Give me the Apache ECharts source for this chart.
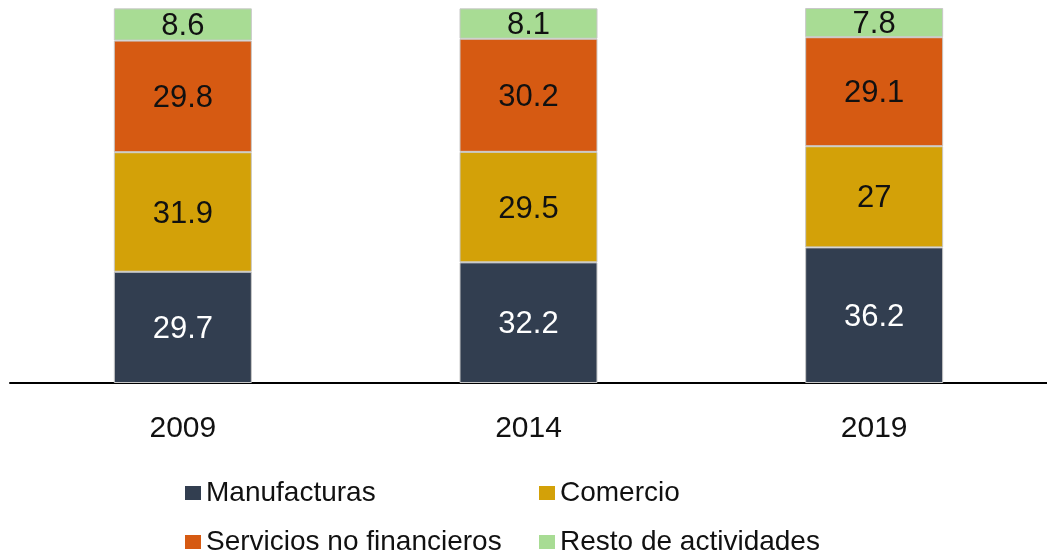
<!DOCTYPE html>
<html><head><meta charset="utf-8">
<script src="https://cdn.jsdelivr.net/npm/echarts@6/dist/echarts.min.js"></script>
<style>html,body{margin:0;padding:0;background:#fff}#c{width:1047px;height:558px}</style>
</head><body><div id="c"></div>
<script>
const years = ['2009', '2014', '2019'];
const manufacturas = [29.7, 32.2, 36.2];
const comercio = [31.9, 29.5, 27];
const servicios = [29.8, 30.2, 29.1];
const resto = [8.6, 8.1, 7.8];
const seriesNames = ['Manufacturas', 'Comercio', 'Servicios no financieros', 'Resto de actividades'];
const colors = ['#323e50', '#d3a108', '#d65a12', '#a8dc94'];
const labelColors = ['#ffffff', '#111111', '#111111', '#111111'];
const values = [manufacturas, comercio, servicios, resto];

const chart = echarts.init(document.getElementById('c'));
const font = 'Liberation Sans, Arial, sans-serif';
const legendPos = [
  {left: 185, top: 479}, {left: 539, top: 479},
  {left: 185, top: 528}, {left: 539, top: 528}
];
chart.setOption({
  animation: false,
  color: colors,
  grid: {left: 10, right: 0, top: 8, bottom: 175},
  xAxis: {
    type: 'category', data: years,
    axisLine: {lineStyle: {color: '#000', width: 2}},
    axisTick: {show: false},
    axisLabel: {color: '#111', fontSize: 30, fontFamily: font, margin: 31}
  },
  yAxis: {type: 'value', min: 0, max: 100.1, show: false, splitLine: {show: false}},
  legend: seriesNames.map((n, i) => ({
    data: [{name: n, itemStyle: {borderWidth: 0}}], left: legendPos[i].left, top: legendPos[i].top,
    itemWidth: 16, itemHeight: 14, itemGap: 6, padding: 0,
    icon: 'rect',
    textStyle: {fontSize: 28, color: '#111', fontFamily: font, padding: [0,0,0,0]}
  })),
  series: values.map((v, i) => ({
    name: seriesNames[i], type: 'bar', stack: 'total', data: v,
    barWidth: 138,
    itemStyle: {color: colors[i], borderColor: '#c8c8c8', borderWidth: 1},
    label: {show: true, position: 'inside', color: labelColors[i], fontSize: 31, fontFamily: font, offset: [0, 2]}
  }))
});
</script></body></html>
